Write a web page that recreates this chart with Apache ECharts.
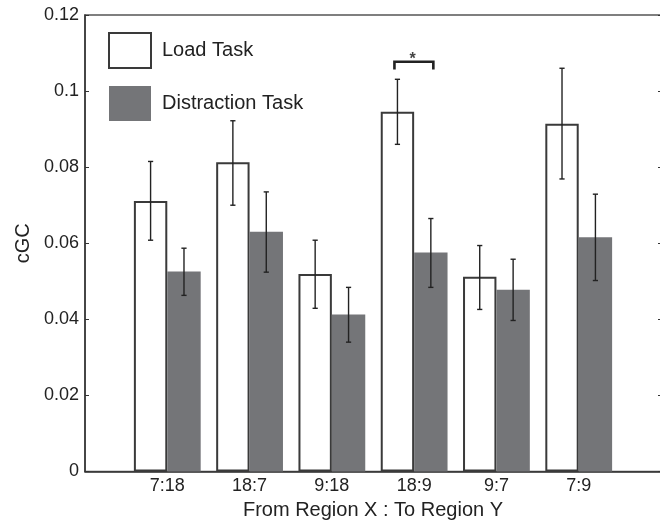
<!DOCTYPE html>
<html>
<head>
<meta charset="utf-8">
<script src="https://cdn.jsdelivr.net/npm/echarts@6/dist/echarts.min.js"></script>
<style>html,body{margin:0;padding:0;background:#fff;}#c{width:660px;height:525px;}</style>
</head>
<body>
<div id="c"></div>
<script>
// ---- data ----
var categories = ['7:18', '18:7', '9:18', '18:9', '9:7', '7:9'];
var seriesNames = ['Load Task', 'Distraction Task'];
var loadValues = [0.0711, 0.0813, 0.0519, 0.0946, 0.0512, 0.0914];
var loadLow    = [0.0608, 0.0700, 0.0429, 0.0860, 0.0426, 0.0769];
var loadHigh   = [0.0815, 0.0922, 0.0608, 0.1031, 0.0594, 0.1060];
var distValues = [0.0526, 0.0630, 0.0413, 0.0576, 0.0478, 0.0616];
var distLow    = [0.0463, 0.0524, 0.0340, 0.0484, 0.0397, 0.0502];
var distHigh   = [0.0587, 0.0735, 0.0484, 0.0665, 0.0558, 0.0729];
var yTicks = [0, 0.02, 0.04, 0.06, 0.08, 0.1, 0.12];
var sigCategory = '18:9';
var sigLevel = 0.1077;
var sigMark = '*';

// ---- build ----
var axisCats = [''].concat(categories, ['']); // x range spans 0..7 around the groups
function pad(arr) { return [null].concat(arr, [null]); }
var BW = 33.4;
var font = '"Liberation Sans", Arial, Helvetica, sans-serif';

function errData(low, high) {
  return low.map(function (l, i) { return [i + 1, l, high[i]]; });
}
function errRender(offset) {
  return function (params, api) {
    var x = api.value(0);
    var p1 = api.coord([x, api.value(1)]);
    var p2 = api.coord([x, api.value(2)]);
    var cx = p1[0] + offset;
    var c = 2.6;
    var st = { stroke: '#222', lineWidth: 1.4, fill: null };
    return {
      type: 'group',
      children: [
        { type: 'line', shape: { x1: cx, y1: p1[1], x2: cx, y2: p2[1] }, style: st },
        { type: 'line', shape: { x1: cx - c, y1: p1[1], x2: cx + c, y2: p1[1] }, style: st },
        { type: 'line', shape: { x1: cx - c, y1: p2[1], x2: cx + c, y2: p2[1] }, style: st }
      ]
    };
  };
}

var chart = echarts.init(document.getElementById('c'), null, { renderer: 'canvas' });
chart.setOption({
  animation: false,
  backgroundColor: '#fff',
  textStyle: { fontFamily: font },
  grid: { left: 85, top: 15, width: 576, bottom: 53.5, outerBoundsMode: 'none', containLabel: false,
    show: true, borderColor: '#555', borderWidth: 1.5, backgroundColor: 'transparent' },
  legend: {
    orient: 'vertical', left: 108, top: 32, padding: 0, itemWidth: 42, itemHeight: 35, itemGap: 17,
    icon: 'rect', data: seriesNames,
    textStyle: { fontSize: 20, color: '#222', fontFamily: font, padding: [0, 0, 0, 6] },
    selectedMode: false
  },
  xAxis: {
    type: 'category', data: axisCats, boundaryGap: false,
    axisLine: { lineStyle: { color: '#333', width: 1.5 } },
    axisTick: { show: false },
    axisLabel: { fontSize: 18, color: '#222', margin: 6, interval: 0, fontFamily: font },
    splitLine: { show: false },
    name: 'From Region X : To Region Y', nameLocation: 'middle', nameGap: 28,
    nameTextStyle: { fontSize: 20, color: '#222', fontFamily: font }
  },
  yAxis: [{
    type: 'value', min: 0, max: 0.12, interval: 0.02,
    axisLine: { show: true, lineStyle: { color: '#333', width: 1.5 } },
    axisTick: { show: true, inside: true, length: 4, lineStyle: { color: '#333' } },
    axisLabel: { fontSize: 18, color: '#222', margin: 6, fontFamily: font,
      formatter: function (v) { var i = yTicks.indexOf(Math.round(v * 100) / 100); return i >= 0 ? String(yTicks[i]) : ''; } },
    splitLine: { show: false },
    name: 'cGC', nameLocation: 'middle', nameGap: 52,
    nameTextStyle: { fontSize: 20, color: '#222', fontFamily: font }
  }, {
    type: 'value', min: 0, max: 0.12, interval: 0.02, position: 'right',
    axisLine: { show: true, lineStyle: { color: '#333', width: 1.5 } },
    axisTick: { show: true, inside: true, length: 3, lineStyle: { color: '#333' } },
    axisLabel: { show: false }, splitLine: { show: false }
  }],
  series: [
    {
      name: seriesNames[0], type: 'bar', data: pad(loadValues), barWidth: BW, barGap: '0%',
      itemStyle: { color: '#ffffff', borderColor: '#3a3a3a', borderWidth: 2 }
    },
    {
      name: seriesNames[1], type: 'bar', data: pad(distValues), barWidth: BW, barGap: '0%',
      itemStyle: { color: '#747578' }
    },
    {
      type: 'custom', data: errData(loadLow, loadHigh), renderItem: errRender(-BW / 2), z: 10, silent: true
    },
    {
      type: 'custom', data: errData(distLow, distHigh), renderItem: errRender(BW / 2), z: 10, silent: true
    },
    {
      type: 'custom', z: 10, silent: true,
      data: [[categories.indexOf(sigCategory) + 1, sigLevel]],
      renderItem: function (params, api) {
        var p = api.coord([api.value(0), api.value(1)]);
        var x1 = p[0] - BW / 2 - 3, x2 = p[0] + BW / 2 + 2.5, y = p[1], leg = 7.6;
        return {
          type: 'group',
          children: [
            { type: 'polyline', shape: { points: [[x1, y + leg], [x1, y], [x2, y], [x2, y + leg]] },
              style: { stroke: '#222', lineWidth: 2.6, fill: null } },
            { type: 'text', style: { text: sigMark, x: p[0] - 1.5, y: y - 10, align: 'center', verticalAlign: 'top',
              fontSize: 16, fontWeight: 'bold', fill: '#444', fontFamily: font } }
          ]
        };
      }
    }
  ]
});
</script>
</body>
</html>
